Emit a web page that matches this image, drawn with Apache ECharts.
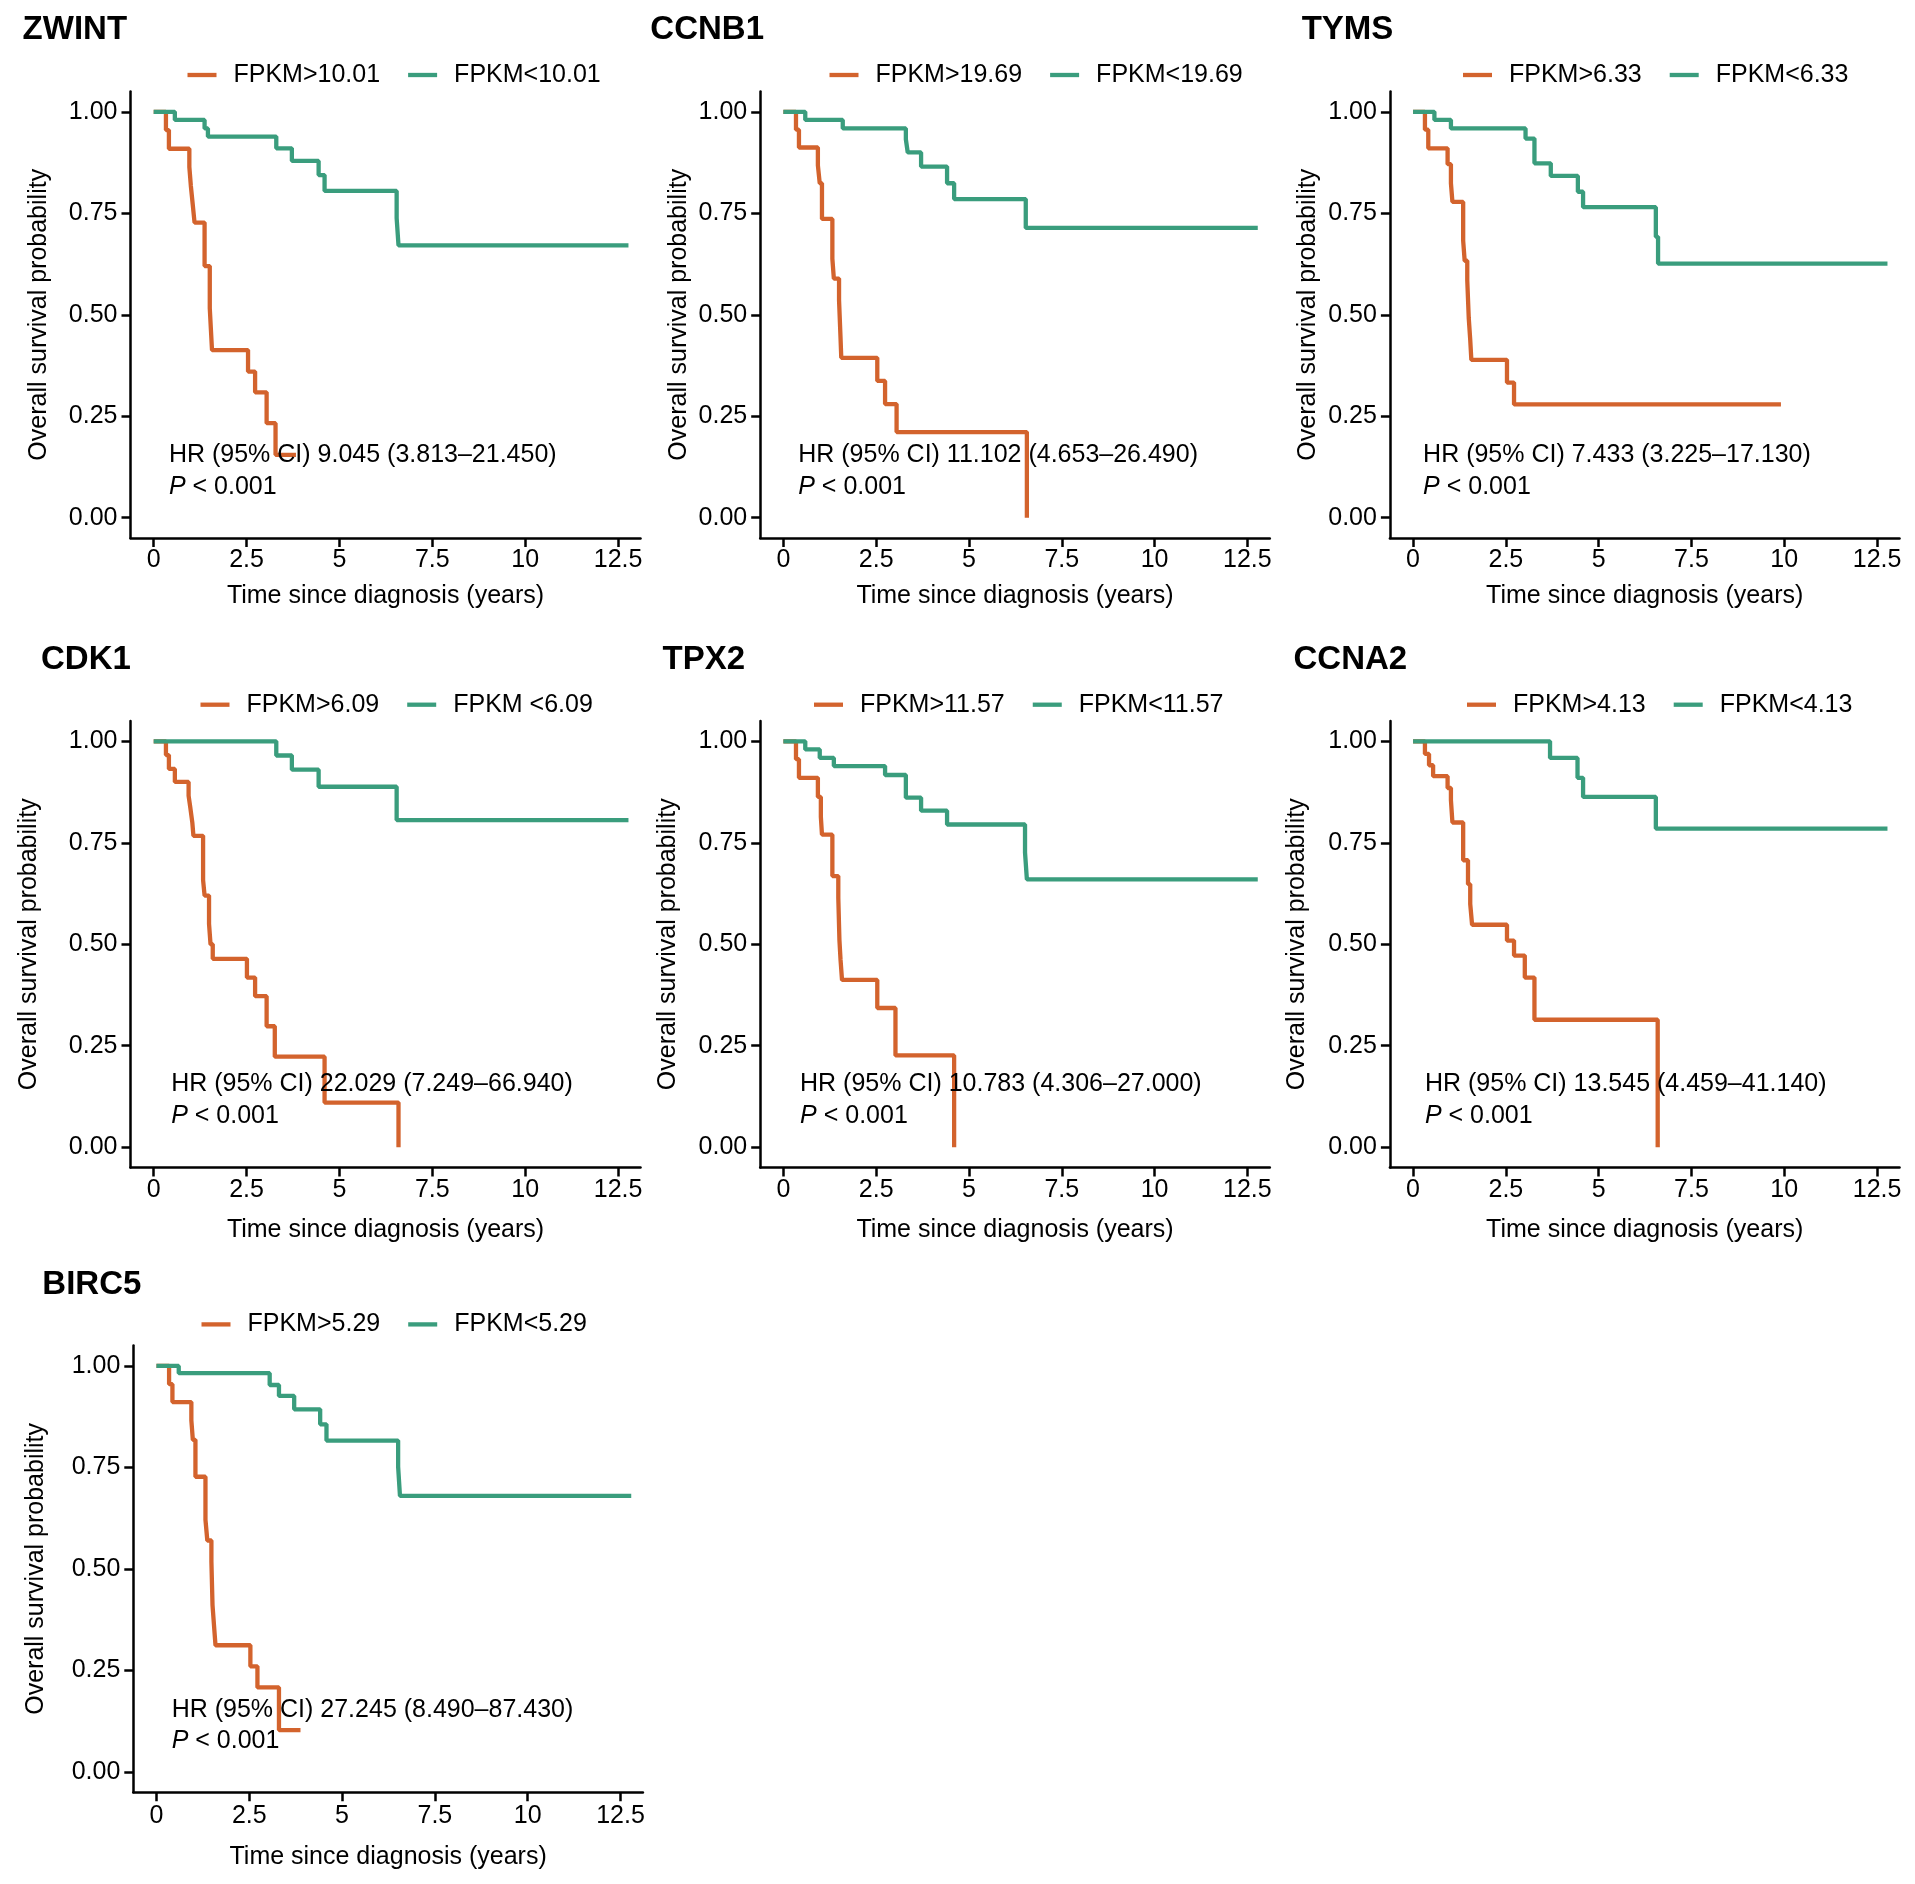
<!DOCTYPE html>
<html>
<head>
<meta charset="utf-8">
<script src="https://cdn.jsdelivr.net/npm/echarts@6/dist/echarts.min.js"></script>
<style>
html,body{margin:0;padding:0;background:#fff;}
#chart{width:1915px;height:1884px;}
</style>
</head>
<body>
<div id="chart"></div>
<script>
// ---------- data ----------
const genes = ['ZWINT', 'CCNB1', 'TYMS', 'CDK1', 'TPX2', 'CCNA2', 'BIRC5'];
const highLabels = ['FPKM>10.01', 'FPKM>19.69', 'FPKM>6.33', 'FPKM>6.09', 'FPKM>11.57', 'FPKM>4.13', 'FPKM>5.29'];
const lowLabels = ['FPKM<10.01', 'FPKM<19.69', 'FPKM<6.33', 'FPKM <6.09', 'FPKM<11.57', 'FPKM<4.13', 'FPKM<5.29'];
const hrTexts = [
  'HR (95% CI) 9.045 (3.813\u201321.450)',
  'HR (95% CI) 11.102 (4.653\u201326.490)',
  'HR (95% CI) 7.433 (3.225\u201317.130)',
  'HR (95% CI) 22.029 (7.249\u201366.940)',
  'HR (95% CI) 10.783 (4.306\u201327.000)',
  'HR (95% CI) 13.545 (4.459\u201341.140)',
  'HR (95% CI) 27.245 (8.490\u201387.430)'
];
const pText = '< 0.001';
const xTicks = [0, 2.5, 5, 7.5, 10, 12.5];
const yTicks = [0, 0.25, 0.5, 0.75, 1];

const zwintHighT = [0, 0.33, 0.41, 0.96, 1.0, 1.05, 1.1, 1.37, 1.51, 1.54, 1.57, 2.54, 2.73, 3.04, 3.28, 3.83];
const zwintHighS = [1, 0.955, 0.909, 0.864, 0.818, 0.773, 0.727, 0.62, 0.516, 0.464, 0.413, 0.36, 0.309, 0.233, 0.155, 0.155];
const zwintLowT = [0, 0.57, 1.37, 1.46, 3.30, 3.72, 4.44, 4.60, 6.54, 6.59, 12.78];
const zwintLowS = [1, 0.98, 0.959, 0.939, 0.91, 0.879, 0.844, 0.805, 0.738, 0.671, 0.671];

const ccnb1HighT = [0, 0.34, 0.42, 0.93, 0.98, 1.04, 1.32, 1.36, 1.50, 1.54, 1.56, 2.53, 2.74, 3.05, 6.56];
const ccnb1HighS = [1, 0.956, 0.912, 0.868, 0.824, 0.736, 0.638, 0.589, 0.536, 0.443, 0.394, 0.337, 0.28, 0.211, 0];
const ccnb1LowT = [0, 0.59, 1.60, 3.30, 3.35, 3.71, 4.41, 4.60, 6.53, 12.78];
const ccnb1LowS = [1, 0.98, 0.959, 0.932, 0.90, 0.865, 0.824, 0.785, 0.714, 0.714];

const tymsHighT = [0, 0.32, 0.41, 0.93, 1.02, 1.06, 1.35, 1.39, 1.46, 1.50, 1.54, 1.57, 2.53, 2.72, 9.91];
const tymsHighS = [1, 0.956, 0.91, 0.871, 0.824, 0.778, 0.682, 0.633, 0.585, 0.492, 0.438, 0.389, 0.333, 0.279, 0.279];
const tymsLowT = [0, 0.575, 1.02, 3.03, 3.27, 3.71, 4.44, 4.58, 6.54, 6.60, 12.78];
const tymsLowS = [1, 0.98, 0.959, 0.934, 0.873, 0.842, 0.803, 0.765, 0.692, 0.626, 0.626];

const cdk1HighT = [0, 0.33, 0.41, 0.57, 0.94, 0.99, 1.04, 1.07, 1.33, 1.37, 1.49, 1.53, 1.59, 2.51, 2.73, 3.04, 3.26, 4.60, 6.59];
const cdk1HighS = [1, 0.966, 0.932, 0.9, 0.866, 0.834, 0.8, 0.767, 0.658, 0.62, 0.55, 0.5, 0.464, 0.418, 0.372, 0.298, 0.223, 0.11, 0];
const cdk1LowT = [0, 3.30, 3.72, 4.44, 6.54, 12.78];
const cdk1LowS = [1, 0.965, 0.93, 0.888, 0.806, 0.806];

const tpx2HighT = [0, 0.34, 0.42, 0.93, 1.01, 1.04, 1.32, 1.48, 1.51, 1.54, 1.58, 2.53, 3.02, 4.60];
const tpx2HighS = [1, 0.956, 0.91, 0.863, 0.814, 0.77, 0.668, 0.614, 0.511, 0.462, 0.412, 0.343, 0.226, 0];
const tpx2LowT = [0, 0.59, 0.98, 1.36, 2.74, 3.30, 3.71, 4.41, 6.51, 6.56, 12.78];
const tpx2LowS = [1, 0.98, 0.959, 0.939, 0.917, 0.861, 0.829, 0.795, 0.726, 0.66, 0.66];

const ccna2HighT = [0, 0.32, 0.43, 0.54, 0.93, 1.02, 1.06, 1.35, 1.48, 1.54, 1.59, 2.53, 2.72, 3.01, 3.27, 6.59];
const ccna2HighS = [1, 0.969, 0.941, 0.914, 0.885, 0.855, 0.8, 0.707, 0.648, 0.599, 0.548, 0.509, 0.472, 0.418, 0.314, 0];
const ccna2LowT = [0, 3.69, 4.43, 4.58, 6.54, 12.78];
const ccna2LowS = [1, 0.959, 0.91, 0.863, 0.785, 0.785];

const birc5HighT = [0, 0.34, 0.43, 0.94, 0.98, 1.05, 1.32, 1.37, 1.48, 1.51, 1.55, 1.59, 2.53, 2.72, 3.30, 3.88];
const birc5HighS = [1, 0.955, 0.911, 0.866, 0.818, 0.727, 0.621, 0.57, 0.518, 0.411, 0.361, 0.312, 0.26, 0.208, 0.103, 0.103];
const birc5LowT = [0, 0.60, 3.05, 3.30, 3.71, 4.41, 4.58, 6.51, 6.56, 12.79];
const birc5LowS = [1, 0.982, 0.953, 0.926, 0.893, 0.856, 0.816, 0.752, 0.68, 0.68];

const highCurves = [[zwintHighT, zwintHighS], [ccnb1HighT, ccnb1HighS], [tymsHighT, tymsHighS], [cdk1HighT, cdk1HighS], [tpx2HighT, tpx2HighS], [ccna2HighT, ccna2HighS], [birc5HighT, birc5HighS]];
const lowCurves = [[zwintLowT, zwintLowS], [ccnb1LowT, ccnb1LowS], [tymsLowT, tymsLowS], [cdk1LowT, cdk1LowS], [tpx2LowT, tpx2LowS], [ccna2LowT, ccna2LowS], [birc5LowT, birc5LowS]];

// ---------- layout (styles only) ----------
const FONT = '"Liberation Sans", Arial, Helvetica, sans-serif';
const ORANGE = '#D3632D';
const GREEN = '#3A9D7D';
const layout = [
  {left: 130.5, top: 91.5,   width: 510,   height: 446.5, title: [22.6, 29.8],   legend: [187.5, 75],    yGap: 79,   xGap: 45.2, xMargin: 10,   ann: [0.41, 0.155, 0.076]},
  {left: 760.2, top: 91.5,   width: 509.6, height: 446.5, title: [650.3, 29.8],  legend: [829.5, 75],    yGap: 69,   xGap: 45.2, xMargin: 10,   ann: [0.40, 0.155, 0.076]},
  {left: 1389.9, top: 91.5,  width: 509.6, height: 446.5, title: [1301.7, 29.8], legend: [1463, 75],     yGap: 69.5, xGap: 45.2, xMargin: 10,   ann: [0.27, 0.155, 0.076]},
  {left: 130.5, top: 721,    width: 510,   height: 446.5, title: [41, 659.8],    legend: [200.5, 704.7], yGap: 89,   xGap: 50.4, xMargin: 10,   ann: [0.47, 0.155, 0.076]},
  {left: 760.2, top: 721,    width: 509.6, height: 446.5, title: [662.6, 659.8], legend: [814, 704.7],   yGap: 80,   xGap: 50.4, xMargin: 10,   ann: [0.45, 0.155, 0.076]},
  {left: 1389.9, top: 721,   width: 509.6, height: 446.5, title: [1293.5, 659.8],legend: [1467, 704.7],  yGap: 80.5, xGap: 50.4, xMargin: 10,   ann: [0.32, 0.155, 0.076]},
  {left: 133.3, top: 1345.6, width: 509.6, height: 446.6, title: [42.3, 1284.6], legend: [201.5, 1324.4],yGap: 84.5, xGap: 52.4, xMargin: 11.5, ann: [0.41, 0.153, 0.076]}
];

const grids = [], xAxes = [], yAxes = [], series = [], legends = [];
genes.forEach(function (g, i) {
  const L = layout[i];
  grids.push({left: L.left, top: L.top, width: L.width, height: L.height, containLabel: false});
  xAxes.push({
    type: 'value', gridIndex: i, min: -0.624, max: 13.104,
    name: 'Time since diagnosis (years)', nameLocation: 'middle', nameGap: L.xGap,
    nameTextStyle: {fontSize: 25, color: '#000', fontFamily: FONT},
    axisLine: {show: true, onZero: false, lineStyle: {color: '#000', width: 2.5}},
    axisTick: {show: true, length: 9, customValues: xTicks, lineStyle: {color: '#000', width: 2.5}},
    axisLabel: {show: true, customValues: xTicks, margin: L.xMargin, fontSize: 25, color: '#000', fontFamily: FONT,
      formatter: function (v) { return String(v); }},
    splitLine: {show: false}
  });
  yAxes.push({
    type: 'value', gridIndex: i, min: -0.05, max: 1.05,
    name: 'Overall survival probability', nameLocation: 'middle', nameGap: L.yGap,
    nameTextStyle: {fontSize: 25, color: '#000', fontFamily: FONT},
    axisLine: {show: true, onZero: false, lineStyle: {color: '#000', width: 2.5}},
    axisTick: {show: true, length: 9, customValues: yTicks, lineStyle: {color: '#000', width: 2.5}},
    axisLabel: {show: true, customValues: yTicks, margin: 13, fontSize: 25, color: '#000', fontFamily: FONT,
      formatter: function (v) { return v.toFixed(2); }},
    splitLine: {show: false}
  });
  const hi = highCurves[i], lo = lowCurves[i];
  series.push({
    name: highLabels[i], type: 'line', xAxisIndex: i, yAxisIndex: i, step: 'end',
    showSymbol: false, symbol: 'none', animation: false, z: 2,
    lineStyle: {color: ORANGE, width: 4.3}, itemStyle: {color: ORANGE},
    data: hi[0].map(function (t, k) { return [t, hi[1][k]]; })
  });
  series.push({
    name: lowLabels[i], type: 'line', xAxisIndex: i, yAxisIndex: i, step: 'end',
    showSymbol: false, symbol: 'none', animation: false, z: 3,
    lineStyle: {color: GREEN, width: 4.3}, itemStyle: {color: GREEN},
    data: lo[0].map(function (t, k) { return [t, lo[1][k]]; })
  });
  legends.push({
    data: [highLabels[i], lowLabels[i]], left: L.legend[0], top: L.legend[1] - 15,
    orient: 'horizontal', icon: 'rect', itemWidth: 29, itemHeight: 4.3, itemGap: 28,
    padding: 0, selectedMode: false,
    textStyle: {fontSize: 25, color: '#000', fontFamily: FONT, lineHeight: 30, padding: [0, 0, 0, 12]}
  });
});

const chart = echarts.init(document.getElementById('chart'), null, {renderer: 'canvas'});
chart.setOption({
  backgroundColor: '#fff',
  animation: false,
  grid: grids, xAxis: xAxes, yAxis: yAxes, series: series, legend: legends
});

// titles and annotations
const elements = [];
genes.forEach(function (g, i) {
  const L = layout[i];
  elements.push({
    type: 'text', x: L.title[0], y: L.title[1], z: 100,
    style: {text: g, fontSize: 33, fontWeight: 'bold', fill: '#000', fontFamily: FONT,
      textAlign: 'left', textVerticalAlign: 'middle'}
  });
  const p1 = chart.convertToPixel({gridIndex: i}, [L.ann[0], L.ann[1]]);
  const p2 = chart.convertToPixel({gridIndex: i}, [L.ann[0], L.ann[2]]);
  elements.push({
    type: 'text', x: p1[0], y: p1[1], z: 100,
    style: {text: hrTexts[i], fontSize: 25, fill: '#000', fontFamily: FONT,
      textAlign: 'left', textVerticalAlign: 'middle'}
  });
  elements.push({
    type: 'text', x: p2[0], y: p2[1], z: 100,
    style: {text: '{i|P} ' + pText, fontSize: 25, fill: '#000', fontFamily: FONT,
      textAlign: 'left', textVerticalAlign: 'middle',
      rich: {i: {fontStyle: 'italic', fontSize: 25, fontFamily: FONT, fill: '#000'}}}
  });
});
chart.setOption({graphic: {elements: elements}});
</script>
</body>
</html>
